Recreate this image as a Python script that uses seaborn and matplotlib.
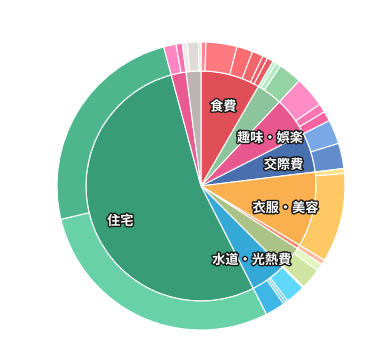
"""Two-level expense pie (category / sub-category ring)."""
import matplotlib
matplotlib.use("Agg")
import numpy as np
import matplotlib.pyplot as plt
import matplotlib.patheffects as pe
import matplotlib.transforms as mtrans
import seaborn as sns

# ---- data (share of the full circle) ----
labels = ["食費", "", "趣味・娯楽", "交際費", "衣服・美容", "", "",
          "水道・光熱費", "住宅", "", ""]
inner_values = [30, 13, 20, 20, 38, 2, 12, 18, 192, 7.5, 7.5]
outer_values = [
    [2, 12.5, 6.5, 4.5, 2, 2.5],
    [1.5, 2, 9.5],
    [12.5, 3.5, 4],
    [9.8, 10.2],
    [2, 36],
    [2],
    [3, 8.5, 0.5],
    [8, 1, 1, 8],
    [103.6, 88.4],
    [5, 2.5],
    [2, 4.5, 1],
]
inner_colors = ["#e04f57", "#8cc49b", "#e8578d", "#4a6fae", "#fbb04f",
                "#f4846c", "#aac386", "#34a9d8", "#379c77", "#e85a90",
                "#bbb6b1"]
outer_colors = [
    ["#ff8a8e", "#ff7a80", "#f86c72", "#f2656b", "#ea5d64", "#e65a61"],
    ["#bdf1cb", "#b0eabf", "#94d3a4"],
    ["#ff8cc7", "#fc74b0", "#f8629f"],
    ["#7aa7e6", "#628dcc"],
    ["#fee08a", "#fec965"],
    ["#ffbe9f"],
    ["#e3f6be", "#d0e4a2", "#c8dc98"],
    ["#5fd8fb", "#52cbf2", "#48c0ec", "#3fb7e6"],
    ["#68d1a8", "#4db68d"],
    ["#ff86c0", "#f872b1"],
    ["#eeeae6", "#dedad6", "#e6e2de"],
]

R_IN = 115 / 144

sns.set_theme(style="white")
plt.rcParams["font.family"] = ["Noto Sans CJK JP", "DejaVu Sans"]

fig = plt.figure(figsize=(3.84, 3.54), dpi=100)
ax = fig.add_axes([57 / 384, 24 / 354, 288 / 384, 288 / 354])

wedge_kw = dict(edgecolor="white", linewidth=0.8)
wedges, _ = ax.pie(inner_values, radius=R_IN, colors=inner_colors,
                   startangle=90, counterclock=False, wedgeprops=wedge_kw)
flat_vals = [v for grp in outer_values for v in grp]
flat_cols = [c for grp in outer_colors for c in grp]
ax.pie(flat_vals, radius=1.0, colors=flat_cols, startangle=90,
       counterclock=False, wedgeprops=dict(width=1 - R_IN, **wedge_kw))

# labels sit a few pixels under the wedge's mid-point, as in the original
txt_tr = mtrans.offset_copy(ax.transData, fig=fig, x=0, y=-4, units="dots")
for w, lab in zip(wedges, labels):
    if not lab:
        continue
    ang = np.deg2rad((w.theta1 + w.theta2) / 2)
    r = 0.6
    ax.text(r * np.cos(ang), r * np.sin(ang), lab, ha="center", va="center",
            transform=txt_tr, fontsize=9.5, fontweight="bold", color="white",
            path_effects=[pe.withStroke(linewidth=2.0, foreground="#1a1a1a")])

ax.set_xlim(-1, 1); ax.set_ylim(-1, 1)
ax.set_aspect("equal"); ax.axis("off")
fig.savefig("out.png", dpi=100)
